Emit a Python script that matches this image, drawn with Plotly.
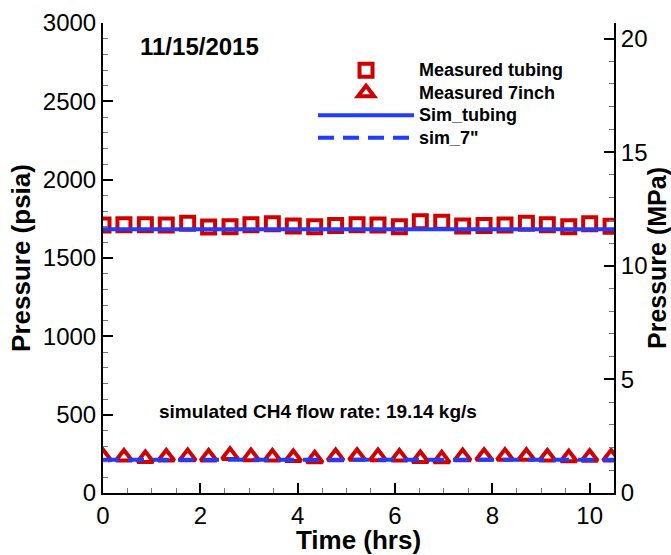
import plotly.graph_objects as go

# ---- data ----
time_hrs = [0.0, 0.43, 0.87, 1.30, 1.74, 2.17, 2.61, 3.04, 3.48, 3.91, 4.35, 4.78,
            5.22, 5.65, 6.09, 6.52, 6.96, 7.39, 7.83, 8.26, 8.70, 9.13, 9.57, 10.0, 10.44]
measured_tubing = [1710, 1712, 1712, 1710, 1722, 1698, 1700, 1712, 1718, 1705, 1700, 1708,
                   1712, 1710, 1700, 1732, 1728, 1705, 1708, 1710, 1722, 1712, 1700, 1718, 1702]
measured_7inch = [232, 230, 220, 230, 232, 230, 240, 232, 230, 226, 218, 232,
                  235, 232, 230, 220, 218, 232, 235, 235, 235, 230, 225, 228, 230]
sim_time = [0.0, 10.5]
sim_tubing = [1683, 1683]
sim_7in = [212, 212]
series_names = ["Measured tubing", "Measured 7inch", "Sim_tubing", 'sim_7"']

x_range = [0, 10.5]
psi_range = [0, 3000]
PSI_PER_MPA = 145.0377

RED = "#d10000"
BLUE = "#1f3cff"
FONT = "Liberation Sans, Arial, sans-serif"


def legend_label(name):
    return '<span style="font-size:18px"><b>%s</b></span>' % name


fig = go.Figure()
fig.add_trace(go.Scatter(x=time_hrs, y=measured_tubing, mode="markers",
                         name=legend_label(series_names[0]),
                         marker=dict(symbol="square-open", size=13, color=RED,
                                     line=dict(width=4, color=RED))))
fig.add_trace(go.Scatter(x=time_hrs, y=measured_7inch, mode="markers",
                         name=legend_label(series_names[1]),
                         marker=dict(symbol="triangle-up-open", size=14, color=RED,
                                     line=dict(width=4, color=RED))))
fig.add_trace(go.Scatter(x=sim_time, y=sim_tubing, mode="lines",
                         name=legend_label(series_names[2]),
                         line=dict(color=BLUE, width=4)))
fig.add_trace(go.Scatter(x=sim_time, y=sim_7in, mode="lines",
                         name=legend_label(series_names[3]),
                         line=dict(color=BLUE, width=4, dash="16px,9px")))
# same simulated tubing values in MPa on the right axis (invisible; it only keeps that axis drawn)
fig.add_trace(go.Scatter(x=sim_time, y=[v / PSI_PER_MPA for v in sim_tubing], mode="lines",
                         yaxis="y2", showlegend=False, hoverinfo="skip",
                         line=dict(color="rgba(0,0,0,0)", width=0)))

axis_common = dict(showline=True, linecolor="black", linewidth=2, ticks="inside",
                   ticklen=10, tickwidth=2, tickcolor="black", showgrid=False,
                   zeroline=False, automargin=False,
                   tickfont=dict(size=24, color="black", family=FONT))
minor_common = dict(ticks="inside", ticklen=5, tickcolor="#777", tickwidth=1)

fig.update_layout(
    width=671, height=555,
    margin=dict(l=103, r=57, t=23, b=62),
    paper_bgcolor="white", plot_bgcolor="white",
    font=dict(family=FONT, color="black"),
    xaxis=dict(range=x_range, dtick=2, tick0=0, minor=dict(dtick=0.5, **minor_common),
               title=dict(text="<b>Time (hrs)</b>", font=dict(size=26), standoff=0),
               **axis_common),
    yaxis=dict(range=psi_range, dtick=500, tick0=0, minor=dict(dtick=100, **minor_common),
               title=dict(text="<b>Pressure (psia)</b>", font=dict(size=26), standoff=5),
               **axis_common),
    yaxis2=dict(overlaying="y", side="right",
                range=[psi_range[0] / PSI_PER_MPA, psi_range[1] / PSI_PER_MPA],
                dtick=5, tick0=0, minor=dict(dtick=1, **minor_common),
                title=dict(text="<b>Pressure (MPa)</b>", font=dict(size=25), standoff=2),
                **axis_common),
    showlegend=True,
    legend=dict(x=0.411, y=0.934, xanchor="left", yanchor="top",
                font=dict(size=15, family=FONT, color="black"),
                bgcolor="rgba(0,0,0,0)", itemwidth=96, tracegroupgap=0),
    annotations=[
        dict(text="<b>11/15/2015</b>", xref="paper", yref="paper", x=0.068, y=0.95,
             xanchor="left", yanchor="middle", showarrow=False, font=dict(size=24)),
        dict(text="<b>simulated CH4 flow rate: 19.14 kg/s</b>", xref="paper", yref="paper",
             x=0.421, y=0.174, xanchor="center", yanchor="middle", showarrow=False,
             font=dict(size=19)),
    ],
)

fig.write_html("out.html",
               config={"displayModeBar": False},
               post_script="document.body.style.margin='0';"
                           "document.body.style.overflow='hidden';")
